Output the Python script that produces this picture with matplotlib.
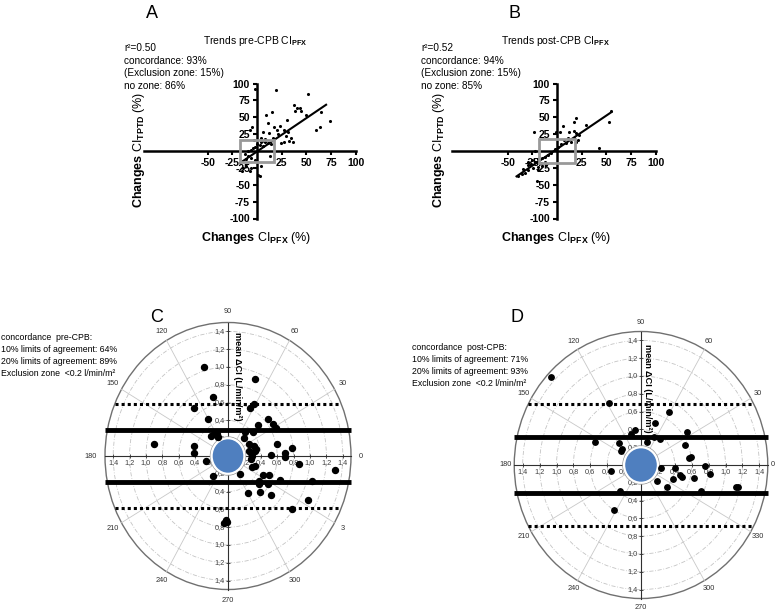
import numpy as np
import matplotlib
matplotlib.use('Agg')
import matplotlib.pyplot as plt
from matplotlib.patches import Rectangle, Circle

plt.rcParams['font.family'] = ['Liberation Sans', 'DejaVu Sans']
plt.rcParams['mathtext.fontset'] = 'custom'
plt.rcParams['mathtext.rm'] = 'Liberation Sans'
plt.rcParams['mathtext.bf'] = 'Liberation Sans:bold'
plt.rcParams['mathtext.it'] = 'Liberation Sans:italic'

# ---------------- data ----------------
# Panel A: trends pre-CPB (changes in %)
a_x = [19.3, 51.7, 37, 40.3, 43.7, 38.7, 44.3, 15, 9.3, 30.3, 49.3, 65.3, 73.7, 59.3, 63.7,
       11, 23.7, 17, 20.3, -5, -7.3, 6, 11.7, 21.7, 27.7, 31.7, 29, 34.3, 32.7, 27, 36, 24.3,
       3.7, 5, 7.7, 11, 14.3, 0.3, 2.7, 6, -1.7, -4, -6.3, -9, -12.3, -9, -5.7, -10.7, -14,
       -10.7, -6.3, -2.3, 4.3, 1, 2.7, 12.7, -7.3, -15.7, -2, 8, 16, 4, -3]
a_y = [91, 84, 68.5, 64, 64, 59, 59, 57.5, 53.5, 46.5, 53.5, 57.5, 44, 31.5, 35,
       41, 37.5, 35, 31, 36, 31.5, 27.5, 26, 25, 31, 28.5, 22.5, 20, 15, 14, 14, 12.5,
       20, 15, 14, 12.5, 11, 11, 9, 7.5, 6, 4, 2, 0, -4, -7.5, -11, -12.5, -25,
       -22.5, -25, -14, -21.5, -35, -36.5, -7.5, -30, -30, 92, 18, 20, 13, 16]
a_fit = dict(slope=0.99, intercept=-0.8, x0=-17, x1=70)
a_zone = 17

# Panel B: trends post-CPB
b_x = [55, 52.7, 19.3, 17, 29.3, 6, 11.7, 17, 19.3, 22.7, -23, -0.7, 2.7, 11, 7, 14.3, 19.3,
       21.7, 17.7, 9.3, 4.3, 1, -2.3, 42.7, -22.3, -5.7, -9, -12.3, -15.7, -19, -25.7, -29.7,
       -22.3, -16.3, -12.3, -10.7, -15.7, -19, -24, -29, -32.3, -35.7, -39.7, -19, -26.3,
       -29.7, -34, -20]
b_y = [59, 43.3, 48.3, 42.4, 38.4, 37, 28.6, 29.6, 26, 23.6, 28.6, 28.6, 28.6, 19.7, 16.3,
       13.8, 13.8, 16.3, 18.7, 11.3, 9.9, 6.4, 2.5, 3.9, 0, -3.4, -5.9, -8.4, -9.9, -12.3,
       -13.3, -15.8, -15.8, -17.2, -15.8, -20.7, -22.2, -24.1, -25.6, -28, -32, -34, -37,
       -28, -19.2, -20.7, -27, -44]
b_fit = dict(slope=0.99, intercept=3, x0=-41, x1=55)
b_zone = 18

# Panel C: polar plot pre-CPB (cartesian position in l/min/m2)
c_x = [-0.29, 0.33, -0.18, -0.41, 0.27, 0.32, -0.24, 0.37, 0.49, 0.55, 0.59, 0.31, 0.21,
       -0.21, -0.17, -0.13, -0.12, -0.90, -0.41, -0.42, 0.19, 0.25, 0.32, 0.34, 0.26, 0.28,
       0.29, 0.28, 0.60, 0.78, 0.69, 0.69, 0.52, 0.86, 1.31, 1.03, 0.98, 0.78, 0.63, 0.50,
       0.43, 0.38, 0.38, 0.49, 0.53, 0.39, 0.24, 0.33, 0.29, 0.15, -0.18, -0.27, -0.03,
       -0.01, -0.05, 0.33]
c_y = [1.00, 0.87, 0.66, 0.54, 0.54, 0.58, 0.42, 0.35, 0.42, 0.36, 0.31, 0.27, 0.27,
       0.23, 0.25, 0.25, 0.21, 0.14, 0.11, 0.03, 0.20, 0.13, 0.11, 0.08, 0.06, 0.03,
       0.00, -0.03, 0.13, 0.09, 0.03, -0.01, 0.01, -0.09, -0.16, -0.28, -0.49, -0.60, -0.27,
       -0.21, -0.21, -0.28, -0.31, -0.32, -0.44, -0.40, -0.42, -0.11, -0.12, -0.20, -0.23,
       -0.06, -0.72, -0.74, -0.75, 0.06]
c_solid = [0.29, -0.29]
c_dotted = [0.58, -0.58]

# Panel D: polar plot post-CPB
d_x = [-1.06, -0.38, 0.33, 0.17, 0.54, -0.07, -0.12, 0.15, 0.22, -0.55, -0.26, 0.07, 0.52,
       -0.23, -0.24, 0.59, 0.57, 0.24, 0.40, 0.76, 0.82, 0.46, 0.48, 0.38, 0.63, 0.19, 1.15,
       1.13, 0.71, 0.31, -0.36, -0.25, -0.32]
d_y = [0.99, 0.70, 0.60, 0.47, 0.37, 0.39, 0.35, 0.32, 0.29, 0.26, 0.25, 0.26, 0.23,
       0.18, 0.16, 0.09, 0.08, -0.03, -0.03, -0.01, -0.10, -0.11, -0.14, -0.16, -0.15,
       -0.18, -0.25, -0.25, -0.29, -0.25, -0.07, -0.29, -0.51]
d_solid = [0.31, -0.32]
d_dotted = [0.68, -0.69]

radial_ticks = [0.2, 0.4, 0.6, 0.8, 1.0, 1.2, 1.4]
radial_labels = ['0,2', '0,4', '0,6', '0,8', '1,0', '1,2', '1,4']
angles = [0, 30, 60, 90, 120, 150, 180, 210, 240, 270, 300, 330]
c_angle_labels = ['0', '30', '60', '90', '120', '150', '180', '210', '240', '270', '300', '3']
d_angle_labels = ['0', '30', '60', '90', '120', '150', '180', '210', '240', '270', '300', '330']

trend_xticks = [-50, -25, 25, 50, 75, 100]
trend_yticks = [-100, -75, -50, -25, 25, 50, 75, 100]

# ---------------- figure ----------------
W, H = 777, 613
fig = plt.figure(figsize=(W / 100, H / 100), dpi=100)


def px_axes(l, t, r, b):
    return fig.add_axes([l / W, 1 - b / H, (r - l) / W, (b - t) / H])


def trend_panel(x0px, xmin, x, y, fit, zone, letter, letter_x, title, stats, stats_x, ylab_x):
    sx = 0.987
    ax = px_axes(x0px + xmin * sx, 83.5, x0px + 100 * sx, 218.5)
    ax.set_xlim(xmin, 100)
    ax.set_ylim(-100, 100)
    ax.patch.set_visible(False)
    for s in ['top', 'right']:
        ax.spines[s].set_visible(False)
    for s in ['left', 'bottom']:
        ax.spines[s].set_position(('data', 0))
        ax.spines[s].set_linewidth(1.8)
    ax.set_xticks(trend_xticks, labels=[str(t) for t in trend_xticks],
                  fontweight='bold', fontsize=7.5)
    ax.set_yticks(trend_yticks, labels=[str(t) for t in trend_yticks],
                  fontweight='bold', fontsize=7.5)
    ax.tick_params(direction='out', length=3, width=1.5, pad=2)
    ax.scatter(x, y, s=5, c='black', zorder=3, linewidths=0)
    xs = np.array([fit['x0'], fit['x1']])
    ax.plot(xs, fit['slope'] * xs + fit['intercept'], color='black', lw=1.5, zorder=3)
    ax.add_patch(Rectangle((-zone, -zone), 2 * zone, 2 * zone, fill=False,
                           ec='#999999', lw=2, zorder=4))
    fig.text(letter_x / W, 1 - 13 / H, letter, fontsize=13, ha='left', va='center')
    fig.text((x0px - 2) / W, 1 - 40.5 / H, title, fontsize=7.5, ha='center', va='center')
    for i, s in enumerate(stats):
        fig.text(stats_x / W, 1 - (48 + 12.6 * i) / H, s, fontsize=7.2,
                 ha='left', va='center')
    fig.text(ylab_x / W, 1 - 150 / H,
             r'$\mathbf{Changes}\ \mathrm{CI}_{\mathbf{TPTD}}\ \mathrm{(\%)}$',
             fontsize=9, rotation=90, ha='center', va='center')
    fig.text((x0px - 1) / W, 1 - 238 / H,
             r'$\mathbf{Changes}\ \mathrm{CI}_{\mathbf{PFX}}\ \mathrm{(\%)}$',
             fontsize=9, ha='center', va='center')


trend_panel(257, -114, a_x, a_y, a_fit, a_zone, 'A', 146,
            r'Trends pre-CPB CI$_{\mathbf{PFX}}$',
            ['r²=0.50', 'concordance: 93%', '(Exclusion zone: 15%)', 'no zone: 86%'],
            124, 139)
trend_panel(557, -106, b_x, b_y, b_fit, b_zone, 'B', 509,
            r'Trends post-CPB CI$_{\mathbf{PFX}}$',
            ['r²=0.52', 'concordance: 94%', '(Exclusion zone: 15%)', 'no zone: 85%'],
            421, 439)


def polar_panel(cx, cy, hs, vs, x, y, solid, dotted, ang_labels, texts, text_x,
                text_y0, ylab_pos, ms, r_horiz, r_other):
    R = 1.5
    ax = px_axes(cx - R * hs, cy - R * vs, cx + R * hs, cy + R * vs)
    ax.set_xlim(-R, R)
    ax.set_ylim(-R, R)
    ax.axis('off')
    for r in radial_ticks:
        ax.add_patch(Circle((0, 0), r, fill=False, ec='#c4c4c4', lw=0.6,
                            ls=(0, (5, 2, 1, 2)), clip_on=False, zorder=1))
    ax.add_patch(Circle((0, 0), R, fill=False, ec='#707070', lw=1.0, clip_on=False, zorder=1))
    for a in angles:
        if a % 90 == 0:
            continue
        t = np.deg2rad(a)
        ax.plot([0, R * np.cos(t)], [0, R * np.sin(t)], color='#c8c8c8', lw=0.6,
                zorder=1, clip_on=False)
    ax.plot([-R, R], [0, 0], color='#303030', lw=0.8, zorder=2, clip_on=False)
    ax.plot([0, 0], [-R, R], color='#303030', lw=0.8, zorder=2, clip_on=False)
    rt = np.array(radial_ticks)
    ax.plot(np.r_[rt, -rt], np.zeros(2 * len(rt)), ls='none', marker='|', ms=3,
            color='#303030', mew=0.6, zorder=2)
    ax.plot(np.zeros(2 * len(rt)), np.r_[rt, -rt], ls='none', marker='_', ms=3,
            color='#303030', mew=0.6, zorder=2)
    for r, lab in zip(radial_ticks, radial_labels):
        for sgn in (1, -1):
            ax.text(sgn * r, -0.035, lab, fontsize=5.3, color='#404040', ha='center',
                    va='top', zorder=2)
            ax.text(-0.04, sgn * r, lab, fontsize=5.3, color='#404040', ha='right',
                    va='center', zorder=2)
    for a, lab in zip(angles, ang_labels):
        t = np.deg2rad(a)
        if a == 0:
            ax.text(r_horiz, 0, lab, fontsize=5.3, color='#303030', ha='left', va='center')
        elif a == 180:
            ax.text(-r_horiz, 0, lab, fontsize=5.3, color='#303030', ha='right', va='center')
        else:
            ax.text(r_other * np.cos(t), r_other * np.sin(t), lab, fontsize=5.3,
                    color='#303030', ha='center', va='center')
    for yv in solid:
        ax.plot([-R, R], [yv, yv], color='black', lw=3.5, zorder=3, solid_capstyle='butt',
                clip_on=False)
    for yv in dotted:
        half = np.sqrt(R ** 2 - yv ** 2)
        ax.plot([-half, half], [yv, yv], color='black', lw=2.2, ls=(0, (1, 1)), zorder=3,
                clip_on=False)
    ax.add_patch(Circle((0, 0), 0.215, fc='none', ec='#9a9a9a', lw=0.8, zorder=4))
    ax.add_patch(Circle((0, 0), 0.2, fc='#4f7fbf', ec='white', lw=1.6, zorder=4))
    ax.plot(x, y, ls='none', marker='o', ms=ms, color='black', zorder=5, clip_on=False)
    ax.text(ylab_pos[0], ylab_pos[1], 'mean ΔCI (L/min/m²)', fontsize=6.6,
            fontweight='bold', rotation=270, ha='center', va='center', zorder=6)
    for i, s in enumerate(texts):
        fig.text(text_x / W, 1 - (text_y0 + 11.8 * i) / H, s, fontsize=6.3,
                 ha='left', va='center')


polar_panel(228, 456, 82, 89, c_x, c_y, c_solid, c_dotted, c_angle_labels,
            ['concordance  pre-CPB:', '10% limits of agreement: 64%',
             '20% limits of agreement: 89%', 'Exclusion zone  <0.2 l/min/m²'],
            1, 338, (0.11, 0.90), 4.3, 1.6, 1.62)
polar_panel(641, 465, 84.5, 89, d_x, d_y, d_solid, d_dotted, d_angle_labels,
            ['concordance  post-CPB:', '10% limits of agreement: 71%',
             '20% limits of agreement: 93%', 'Exclusion zone  <0.2 l/min/m²'],
            412, 348, (0.08, 0.86), 3.9, 1.53, 1.6)

fig.text(150 / W, 1 - 318 / H, 'C', fontsize=13, ha='left', va='center')
fig.text(511 / W, 1 - 318 / H, 'D', fontsize=13, ha='left', va='center')

fig.savefig('out.png', dpi=100)
